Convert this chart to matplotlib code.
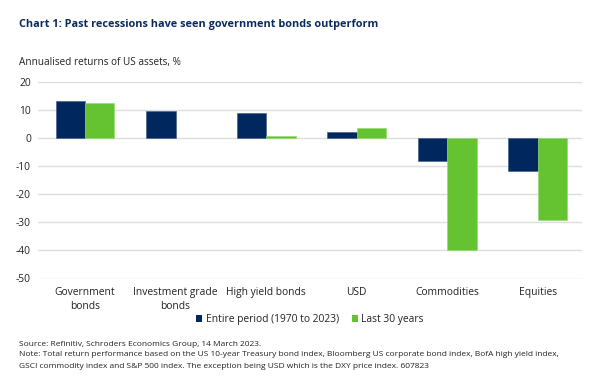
import numpy as np
import matplotlib
matplotlib.use("Agg")
import matplotlib.pyplot as plt
from matplotlib.patches import Patch

plt.rcParams['font.family'] = ['Open Sans', 'DejaVu Sans']

categories = ["Government\nbonds", "Investment grade\nbonds", "High yield bonds",
              "USD", "Commodities", "Equities"]
entire_period = [13.0, 9.6, 8.8, 1.9, -8.2, -11.7]
last_30_years = [12.5, np.nan, 0.8, 3.5, -40.0, -29.2]
series_names = ["Entire period (1970 to 2023)", "Last 30 years"]
yticks = [20, 10, 0, -10, -20, -30, -40, -50]

navy = "#00285e"
green = "#65c332"
text_col = "#222222"

fig = plt.figure(figsize=(6.02, 3.87), dpi=100)
ax = fig.add_axes([38 / 602, 1 - 278.5 / 387, 544 / 602, (278.5 - 81.5) / 387])

x = np.arange(len(categories))
w = 0.325
ax.bar(x - w / 2, entire_period, width=w, color=navy, edgecolor="#3a5a85",
       linewidth=0.4, zorder=3)
ax.bar(x + w / 2, last_30_years, width=w, color=green, edgecolor="#8fdc6a",
       linewidth=0.4, zorder=3)

ax.set_xlim(-0.52, 5.49)
ax.set_ylim(-50, 20)
ax.set_yticks(yticks)
ax.set_yticklabels([str(t) for t in yticks], fontsize=7.4, color=text_col)
ax.set_xticks(x)
ax.set_xticklabels(categories, fontsize=7.4, color=text_col, linespacing=1.35)
ax.tick_params(axis="both", length=0, pad=5)
ax.tick_params(axis="x", pad=6)
ax.grid(axis="y", color="#dddddd", linewidth=1.0, zorder=0)
for s in ax.spines.values():
    s.set_visible(False)

fig.text(19 / 602, 1 - 24 / 387, "Chart 1: Past recessions have seen government bonds outperform",
         fontsize=7.8, fontweight="bold", color="#0a2a5e", va="center", ha="left")
fig.text(19 / 602, 1 - 63 / 387, "Annualised returns of US assets, %",
         fontsize=7.2, color=text_col, va="center", ha="left")

handles = [Patch(facecolor=navy, edgecolor="none"), Patch(facecolor=green, edgecolor="none")]
fig.legend(handles, series_names, loc="center", bbox_to_anchor=(310 / 602, 1 - 319.5 / 387),
           ncol=2, frameon=False, fontsize=7.4, handlelength=0.6, handleheight=0.6,
           handletextpad=0.3, columnspacing=1.3, labelcolor=text_col)

fig.text(19 / 602, 1 - 344 / 387, "Source: Refinitiv, Schroders Economics Group, 14 March 2023.",
         fontsize=6.05, color=text_col, va="center", ha="left")
fig.text(19 / 602, 1 - 355 / 387,
         "Note: Total return performance based on the US 10-year Treasury bond index, Bloomberg US corporate bond index, BofA high yield index,",
         fontsize=6.05, color=text_col, va="center", ha="left")
fig.text(19 / 602, 1 - 366 / 387,
         "GSCI commodity index and S&P 500 index. The exception being USD which is the DXY price index. 607823",
         fontsize=6.05, color=text_col, va="center", ha="left")

fig.savefig("out.png", dpi=100)
